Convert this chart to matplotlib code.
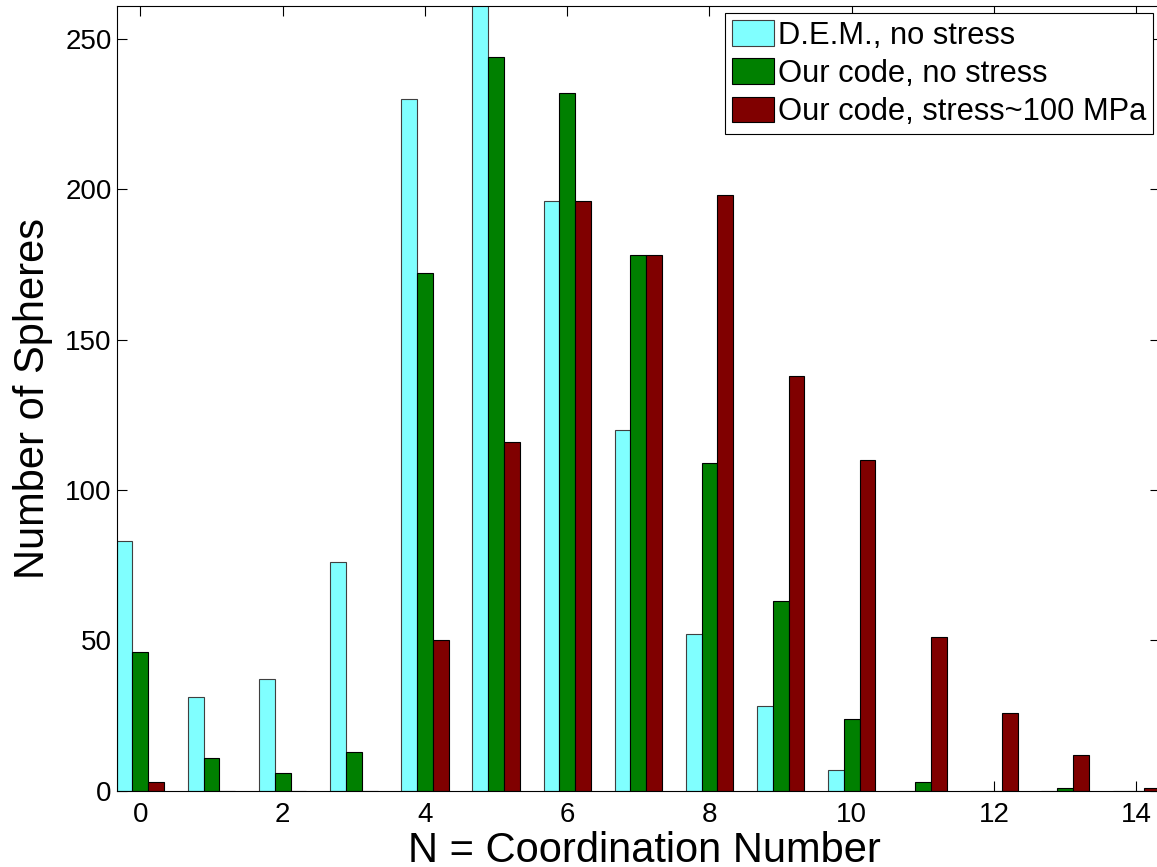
import matplotlib
matplotlib.use("Agg")
import matplotlib.pyplot as plt
import numpy as np

plt.rcParams['font.family'] = ['Liberation Sans', 'DejaVu Sans']

coord = [0, 1, 2, 3, 4, 5, 6, 7, 8, 9, 10, 11, 12, 13, 14]
dem_no_stress = [83, 31, 37, 76, 230, 266, 196, 120, 52, 28, 7, 0, 0, 0, 0]
code_no_stress = [46, 11, 6, 13, 172, 244, 232, 178, 109, 63, 24, 3, 0, 1, 0]
code_stress = [3, 0, 0, 0, 50, 116, 196, 178, 198, 138, 110, 51, 26, 12, 1]
labels = ['D.E.M., no stress', 'Our code, no stress', 'Our code, stress~100 MPa']
colors = ['#80ffff', '#008000', '#800000']
xticks = [0, 2, 4, 6, 8, 10, 12, 14]
yticks = [0, 50, 100, 150, 200, 250]

W, H = 1157, 867
fig = plt.figure(figsize=(W / 100, H / 100), dpi=100)
left_px, right_px, top_px, bottom_px = 116.7, 1160.0, 5.7, 790.7
ax = fig.add_axes([left_px / W, (H - bottom_px) / H,
                   (right_px - left_px) / W, (bottom_px - top_px) / H])

x = np.array(coord)
bw = 2.0 / 9.0
series = [dem_no_stress, code_no_stress, code_stress]
edges = ['#404040', 'black', 'black']
for i, (vals, c, lab, ec) in enumerate(zip(series, colors, labels, edges)):
    ax.bar(x + (i - 1) * bw, vals, width=bw, color=c, edgecolor=ec,
           linewidth=0.8, label=lab, zorder=2)

ax.set_xlim(-0.333, 14.333)
ax.set_ylim(0, 261)
ax.set_xticks(xticks)
ax.set_yticks(yticks)
ax.set_axisbelow(True)
ax.tick_params(direction='in', length=7, width=0.8, top=True, right=True,
               labelsize=20)
ax.tick_params(axis='x', pad=8)
ax.tick_params(axis='y', pad=3.6)
for s in ax.spines.values():
    s.set_linewidth(0.8)
    s.set_zorder(3)

ax.set_xlabel('N = Coordination Number', fontsize=30, va='baseline')
ax.xaxis.set_label_coords(0.5054, (5.0 - (H - bottom_px)) / (bottom_px - top_px))
ax.set_ylabel('Number of Spheres', fontsize=30, va='center', ha='center')
ax.yaxis.set_label_coords((33 - left_px) / (right_px - left_px), 0.5)

leg = ax.legend(loc='upper right',
                bbox_to_anchor=((1153.3 - left_px) / (right_px - left_px),
                                (bottom_px - 13.3) / (bottom_px - top_px)),
                borderaxespad=0, fontsize=22.2, frameon=True, fancybox=False,
                shadow=False, framealpha=1, edgecolor='black',
                handlelength=1.36, handleheight=0.91, handletextpad=0.15,
                labelspacing=0.25, borderpad=0.22)
leg.get_frame().set_linewidth(0.8)

fig.savefig('out.png', dpi=100)
